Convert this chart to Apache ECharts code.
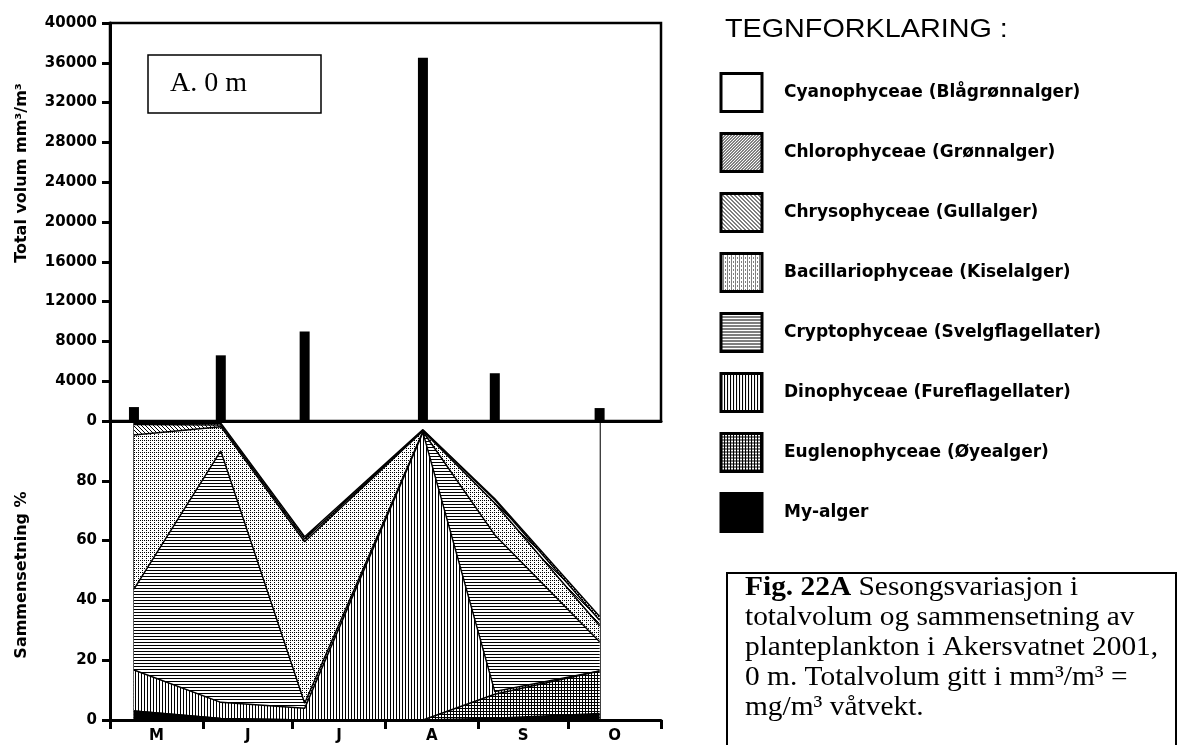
<!DOCTYPE html>
<html>
<head>
<meta charset="utf-8">
<script src="https://cdn.jsdelivr.net/npm/echarts@6/dist/echarts.min.js"></script>
<style>
html, body { margin: 0; padding: 0; background: #fff; }
#chart { width: 1184px; height: 745px; }
</style>
</head>
<body>
<div id="chart"></div>
<script>
// sampling days, counted from 1 May 2001
var sampleDays = [8, 37, 65, 104.5, 128.5, 163.5];
var totalVolume = [1400, 6600, 9000, 36500, 4800, 1300];

// composition in %, one value per sample
var myAlgerPct    = [3.0, 0.5, 0.0, 0.0, 0.6, 2.2];
var euglenoPct    = [0.0, 0.0, 0.0, 0.0, 8.0, 14.2];
var dinoPct       = [13.7, 5.4, 3.9, 96.2, 0.9, 0.0];
var cryptoPct     = [27.1, 84.1, 1.7, 0.3, 52.4, 9.8];
var bacillarioPct = [51.5, 8.1, 54.0, 0.2, 10.6, 5.3];
var chrysoPct     = [3.5, 0.6, 0.9, 0.2, 1.1, 1.9];
var chloroPct     = [0.4, 0.6, 0.8, 0.2, 0.4, 1.2];
var cyanoPct      = [0.8, 0.7, 38.7, 2.9, 26.0, 65.4];

var monthLabels = ['M', 'J', 'J', 'A', 'S', 'O'];
var monthStarts = [0, 31, 61, 92, 123, 153, 184];
var monthMids = monthLabels.map(function (m, i) { return (monthStarts[i] + monthStarts[i + 1]) / 2; });

var names = [
  'Cyanophyceae (Blågrønnalger)',
  'Chlorophyceae (Grønnalger)',
  'Chrysophyceae (Gullalger)',
  'Bacillariophyceae (Kiselalger)',
  'Cryptophyceae (Svelgflagellater)',
  'Dinophyceae (Fureflagellater)',
  'Euglenophyceae (Øyealger)',
  'My-alger'
];

function pattern(size, draw) {
  var c = document.createElement('canvas');
  c.width = size; c.height = size;
  var ctx = c.getContext('2d');
  ctx.fillStyle = '#fff';
  ctx.fillRect(0, 0, size, size);
  ctx.fillStyle = '#000';
  draw(ctx, size);
  return { image: c, repeat: 'repeat' };
}

var fills = {
  'Cyanophyceae (Blågrønnalger)': '#fff',
  'Chlorophyceae (Grønnalger)': pattern(3, function (g) { g.fillRect(2, 0, 1, 1); g.fillRect(1, 1, 1, 1); g.fillRect(0, 2, 1, 1); }),
  'Chrysophyceae (Gullalger)': pattern(4, function (g) { g.fillRect(0, 0, 1, 1); g.fillRect(1, 1, 1, 1); g.fillRect(2, 2, 1, 1); g.fillRect(3, 3, 1, 1); }),
  'Bacillariophyceae (Kiselalger)': pattern(4, function (g) { g.fillRect(0, 0, 1, 1); g.fillRect(2, 2, 1, 1); g.fillRect(2, 0, 1, 1); }),
  'Cryptophyceae (Svelgflagellater)': pattern(3, function (g) { g.fillRect(0, 0, 3, 1); }),
  'Dinophyceae (Fureflagellater)': pattern(3, function (g) { g.fillRect(0, 0, 1, 3); }),
  'Euglenophyceae (Øyealger)': pattern(3, function (g) { g.fillRect(0, 0, 3, 1); g.fillRect(0, 0, 1, 3); }),
  'My-alger': '#000'
};

// bottom-up stacking order
var layers = [
  ['My-alger', myAlgerPct],
  ['Euglenophyceae (Øyealger)', euglenoPct],
  ['Dinophyceae (Fureflagellater)', dinoPct],
  ['Cryptophyceae (Svelgflagellater)', cryptoPct],
  ['Bacillariophyceae (Kiselalger)', bacillarioPct],
  ['Chrysophyceae (Gullalger)', chrysoPct],
  ['Chlorophyceae (Grønnalger)', chloroPct],
  ['Cyanophyceae (Blågrønnalger)', cyanoPct]
];

// cumulative tops; each layer is filled down to 0, lower layers sit above it in z
var running = sampleDays.map(function () { return 0; });
var cumulative = layers.map(function (l) {
  running = running.map(function (r, i) { return r + l[1][i]; });
  return running.slice();
});

var sansBold = { fontFamily: 'DejaVu Sans', fontWeight: 'bold', color: '#000' };

var series = [{
  type: 'bar',
  xAxisIndex: 0,
  yAxisIndex: 0,
  barWidth: 10,
  itemStyle: { color: '#000' },
  data: sampleDays.map(function (d, i) { return [d, totalVolume[i]]; })
}];

layers.forEach(function (l, k) {
  var fill = fills[l[0]];
  var s = {
    name: l[0],
    type: 'line',
    xAxisIndex: 1,
    yAxisIndex: 1,
    z: 12 - k,
    symbol: 'none',
    itemStyle: { color: fill },
    lineStyle: { color: '#000', width: 1.5 },
    areaStyle: { color: fill, opacity: 1 },
    data: sampleDays.map(function (d, i) { return [d, cumulative[k][i]]; })
  };
  if (k === 0) {
    var first = sampleDays[0], last = sampleDays[sampleDays.length - 1];
    s.markLine = {
      silent: true,
      symbol: 'none',
      label: { show: false },
      lineStyle: { color: '#000', width: 1.5, type: 'solid' },
      data: [
        [{ coord: [first, 0] }, { coord: [first, 100] }],
        [{ coord: [last, 0] }, { coord: [last, 100] }]
      ]
    };
  }
  series.push(s);
});

var chart = echarts.init(document.getElementById('chart'));
chart.setOption({
  animation: false,
  backgroundColor: '#fff',
  grid: [
    { left: 110, top: 23, width: 551, height: 398, show: true, borderColor: '#000', borderWidth: 2.5, backgroundColor: 'transparent' },
    { left: 110, top: 421, width: 551, height: 299 }
  ],
  xAxis: [{
    gridIndex: 0, type: 'value', min: 0, max: 184, z: 20,
    axisLine: { lineStyle: { color: '#000', width: 3 } },
    axisTick: { show: false }, axisLabel: { show: false }, splitLine: { show: false }
  }, {
    gridIndex: 1, type: 'value', min: 0, max: 184, z: 20,
    axisLine: { lineStyle: { color: '#000', width: 3 } },
    axisTick: { customValues: monthStarts, length: 9, lineStyle: { color: '#000', width: 3 } },
    axisLabel: Object.assign({
      customValues: monthMids, fontSize: 15, margin: 9,
      formatter: function (v) { return monthLabels[monthMids.indexOf(v)]; }
    }, sansBold),
    splitLine: { show: false }
  }],
  yAxis: [{
    gridIndex: 0, type: 'value', min: 0, max: 40000, interval: 4000, z: 20,
    axisLine: { show: true, lineStyle: { color: '#000', width: 3 } },
    axisTick: { show: true, length: 8, lineStyle: { color: '#000', width: 3 } },
    axisLabel: Object.assign({ fontSize: 15, margin: 13, formatter: function (v) { return String(v); } }, sansBold),
    splitLine: { show: false }
  }, {
    gridIndex: 1, type: 'value', min: 0, max: 100, interval: 20, z: 20,
    axisLine: { show: true, lineStyle: { color: '#000', width: 3 } },
    axisTick: { show: true, length: 8, lineStyle: { color: '#000', width: 3 } },
    axisLabel: Object.assign({ fontSize: 15, margin: 13, formatter: function (v) { return v === 100 ? '' : String(v); } }, sansBold),
    splitLine: { show: false }
  }],
  legend: {
    orient: 'vertical',
    left: 719.5,
    top: 72,
    padding: 0,
    icon: 'rect',
    itemWidth: 41,
    itemHeight: 38,
    itemGap: 19,
    selectedMode: false,
    itemStyle: { borderColor: '#000', borderWidth: 3 },
    textStyle: Object.assign({ fontSize: 17, padding: [0, 0, 10, 17] }, sansBold),
    data: names.map(function (n) {
      return { name: n, itemStyle: { color: fills[n], borderColor: '#000', borderWidth: 3 } };
    })
  },
  graphic: [
    { type: 'rect', shape: { x: 148, y: 55, width: 173, height: 58 }, style: { fill: '#fff', stroke: '#000', lineWidth: 1.5 }, z: 10 },
    { type: 'text', x: 170, y: 84, style: { text: 'A. 0 m', font: '28px "Liberation Serif"', fill: '#000', verticalAlign: 'middle' }, z: 11 },
    { type: 'text', x: 22, y: 173, rotation: Math.PI / 2, style: { text: 'Total volum mm³/m³', font: 'bold 16px "DejaVu Sans"', fill: '#000', align: 'center', verticalAlign: 'middle' } },
    { type: 'text', x: 22, y: 575, rotation: Math.PI / 2, style: { text: 'Sammensetning %', font: 'bold 16px "DejaVu Sans"', fill: '#000', align: 'center', verticalAlign: 'middle' } },
    { type: 'text', x: 725, y: 30, scaleX: 1.15, style: { text: 'TEGNFORKLARING :', font: '25px "Liberation Sans"', fill: '#000', verticalAlign: 'middle' } },
    { type: 'rect', shape: { x: 727, y: 573, width: 449, height: 200 }, style: { fill: '#fff', stroke: '#000', lineWidth: 2 } },
    {
      type: 'text', x: 745, y: 573, scaleX: 1.05,
      style: {
        text: '{b|Fig. 22A} Sesongsvariasjon i\ntotalvolum og sammensetning av\nplanteplankton i Akersvatnet 2001,\n0 m. Totalvolum gitt i mm³/m³ =\nmg/m³ våtvekt.',
        font: '28px "Liberation Serif"',
        lineHeight: 30,
        fill: '#000',
        verticalAlign: 'top',
        rich: { b: { fontWeight: 'bold', fontFamily: 'Liberation Serif', fontSize: 28, lineHeight: 30 } }
      }
    }
  ],
  series: series
});
</script>
</body>
</html>
